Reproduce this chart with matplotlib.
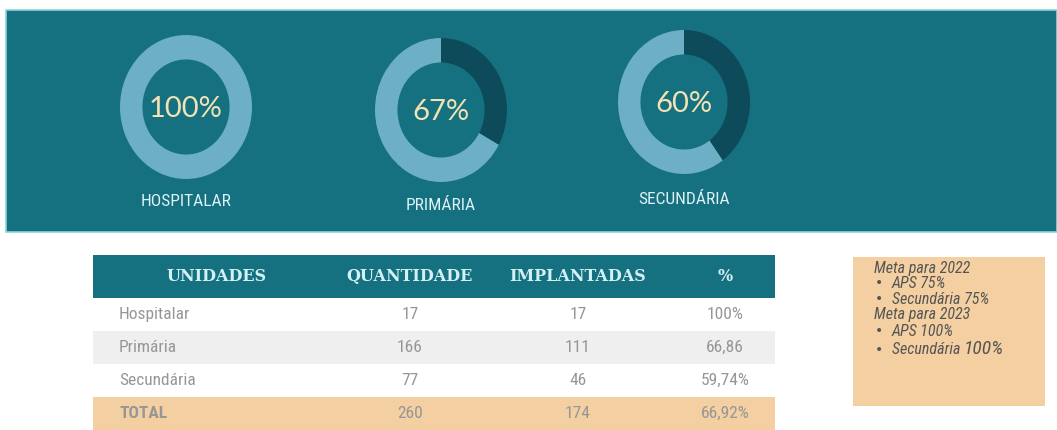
import matplotlib
matplotlib.use("Agg")
import matplotlib.pyplot as plt
from matplotlib.patches import Rectangle
from matplotlib import font_manager
from matplotlib.transforms import offset_copy

# ---- data ----
donut_labels = ["HOSPITALAR", "PRIMÁRIA", "SECUNDÁRIA"]
donut_pct = [100, 67, 60]

col_headers = ["UNIDADES", "QUANTIDADE", "IMPLANTADAS", "%"]
row_names = ["Hospitalar", "Primária", "Secundária", "TOTAL"]
quantidade = [17, 166, 77, 260]
implantadas = [17, 111, 46, 174]
pct_text = ["100%", "66,86", "59,74%", "66,92%"]

meta_lines = [
    ("Meta para 2022", "", False),
    ("APS 75%", "", True),
    ("Secundária 75%", "", True),
    ("Meta para 2023", "", False),
    ("APS 100%", "", True),
    ("Secundária ", "100%", True),
]

# ---- styling ----
W, H = 1057, 430
PANEL = "#15707F"
RING_LIGHT = "#6DAFC4"
RING_DARK = "#0D4B5B"
PCT_COLOR = "#F1E3B4"
LABEL_COLOR = "#DDF2F7"
HEAD_TEXT = "#D3F0F5"
CELL_TEXT = "#969696"
ROW_GRAY = "#EFEFEF"
PEACH = "#F3CFA1"
META_TEXT = "#555555"


def pick(*names):
    avail = {f.name for f in font_manager.fontManager.ttflist}
    for n in names:
        if n in avail:
            return n
    return "DejaVu Sans"


narrow = pick("Liberation Sans Narrow", "Roboto Condensed", "Liberation Sans")
light = pick("Lato", "Open Sans", "DejaVu Sans")
slab = pick("DejaVu Serif")

fig = plt.figure(figsize=(W / 100, H / 100), dpi=100)
fig.patch.set_facecolor("white")
ax = fig.add_axes([0, 0, 1, 1])
ax.set_xlim(0, W)
ax.set_ylim(H, 0)
ax.axis("off")

# teal banner
ax.add_patch(Rectangle((6, 10), W - 6, 222, facecolor=PANEL,
                       edgecolor="#8ED3DF", linewidth=1.2, zorder=1))

# donuts
centers = [(186, 107), (441, 110), (684, 102)]
rx, ry = 66, 72
label_y = [202, 205, 200]
for (cx, cy), pct, lab, ly in zip(centers, donut_pct, donut_labels, label_y):
    dax = fig.add_axes([(cx - rx) / W, 1 - (cy + ry) / H, 2 * rx / W, 2 * ry / H])
    dax.pie([pct, 100 - pct], colors=[RING_LIGHT, RING_DARK], startangle=90,
            counterclock=True, radius=1.0,
            wedgeprops=dict(width=0.34, linewidth=0))
    dax.set_aspect("auto")
    dax.set_xlim(-1, 1)
    dax.set_ylim(-1, 1)
    dax.axis("off")
    ax.text(cx, cy + 2, f"{pct}%", color=PCT_COLOR, fontsize=21,
            family=light, fontweight="normal", ha="center", va="center", zorder=5)
    ax.text(cx, ly, lab, color=LABEL_COLOR, fontsize=12.5, family=narrow,
            ha="center", va="center", zorder=5)

# table
tx0, tx1 = 93, 775
head_top, head_bot = 255, 298
row_h = 33
ax.add_patch(Rectangle((tx0, head_top), tx1 - tx0, head_bot - head_top,
                       facecolor=PANEL, edgecolor="none", zorder=1))
col_x = [217, 410, 578, 725]
for x, h in zip(col_x, col_headers):
    ax.text(x, (head_top + head_bot) / 2, h, color=HEAD_TEXT, fontsize=11.5,
            family=slab, fontweight="bold", ha="center", va="center", zorder=3)

for i, name in enumerate(row_names):
    y0 = head_bot + i * row_h
    if i == 1:
        ax.add_patch(Rectangle((tx0, y0), tx1 - tx0, row_h,
                               facecolor=ROW_GRAY, edgecolor="none", zorder=1))
    if i == len(row_names) - 1:
        ax.add_patch(Rectangle((tx0, y0), tx1 - tx0, H - y0,
                               facecolor=PEACH, edgecolor="none", zorder=1))
    yc = y0 + row_h / 2
    bold = i == len(row_names) - 1
    ax.text(119, yc, name, color=CELL_TEXT, fontsize=12.5, family=narrow,
            fontweight="bold" if bold else "normal", ha="left", va="center", zorder=3)
    ax.text(col_x[1], yc, str(quantidade[i]), color=CELL_TEXT, fontsize=12.5,
            family=narrow, ha="center", va="center", zorder=3)
    ax.text(col_x[2], yc, str(implantadas[i]), color=CELL_TEXT, fontsize=12.5,
            family=narrow, ha="center", va="center", zorder=3)
    ax.text(col_x[3], yc, pct_text[i], color=CELL_TEXT, fontsize=12.5,
            family=narrow, ha="center", va="center", zorder=3)

# goals box
bx0, bx1, by0, by1 = 853, 1045, 257, 406
ax.add_patch(Rectangle((bx0, by0), bx1 - bx0, by1 - by0,
                       facecolor=PEACH, edgecolor="none", zorder=1))
line_y = [268, 283, 299, 315, 331, 350]
renderer = fig.canvas.get_renderer()
for (txt, extra, bullet), y in zip(meta_lines, line_y):
    size = 11.5
    if bullet:
        ax.text(879, y, "•", color=META_TEXT, fontsize=10, ha="center",
                va="center", zorder=3)
        x = 892
    else:
        x = 874
    t = ax.text(x, y, txt, color=META_TEXT, fontsize=size, family=narrow,
                style="italic", ha="left", va="center", zorder=3)
    if extra:
        bb = t.get_window_extent(renderer=renderer)
        ax.text(bb.x1 / 100 * 100 * W / fig.bbox.width, y - 1, extra,
                color=META_TEXT, fontsize=14, family=narrow, style="italic",
                ha="left", va="center", zorder=3)

fig.savefig("out.png", dpi=100, facecolor="white")
